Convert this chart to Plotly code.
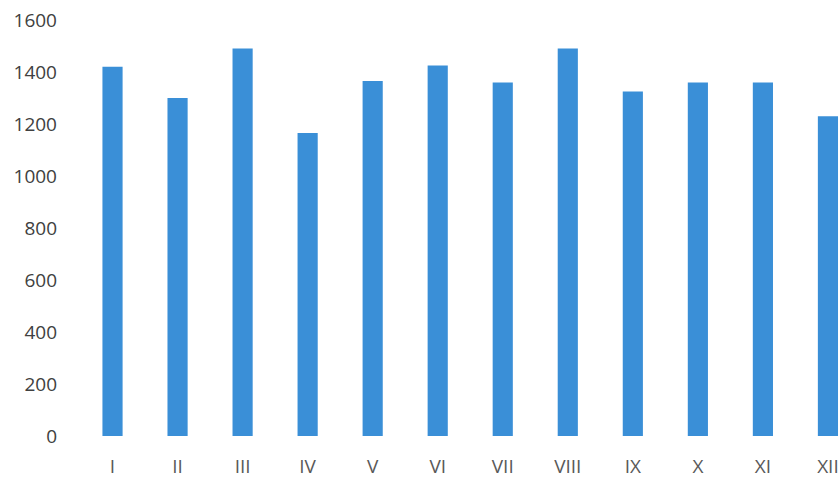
import plotly.graph_objects as go

months = ["I", "II", "III", "IV", "V", "VI", "VII", "VIII", "IX", "X", "XI", "XII"]
values = [1420, 1300, 1490, 1165, 1365, 1425, 1360, 1490, 1325, 1360, 1360, 1230]
y_ticks = [0, 200, 400, 600, 800, 1000, 1200, 1400, 1600]

fig = go.Figure(
    go.Bar(x=months, y=values, marker=dict(color="#3a8fd7", line=dict(width=0)))
)

fig.update_layout(
    width=839,
    height=480,
    margin=dict(l=80, r=0, t=20, b=44),
    paper_bgcolor="white",
    plot_bgcolor="white",
    bargap=0.69,
    showlegend=False,
    font=dict(family="Open Sans", color="#404040"),
)

fig.update_xaxes(
    range=[-0.5, 11.17],
    showgrid=False,
    showline=False,
    zeroline=False,
    ticks="",
    tickfont=dict(size=19, color="#595959"),
    ticklabelstandoff=17,
)
fig.update_yaxes(
    range=[0, 1600],
    tickvals=y_ticks,
    showgrid=False,
    showline=False,
    zeroline=False,
    ticks="",
    tickfont=dict(size=19, color="#404040"),
    ticklabelstandoff=22,
)

fig.write_html(
    "out.html",
    config={"displayModeBar": False},
    post_script="document.body.style.margin='0';document.body.style.overflow='hidden';",
)
